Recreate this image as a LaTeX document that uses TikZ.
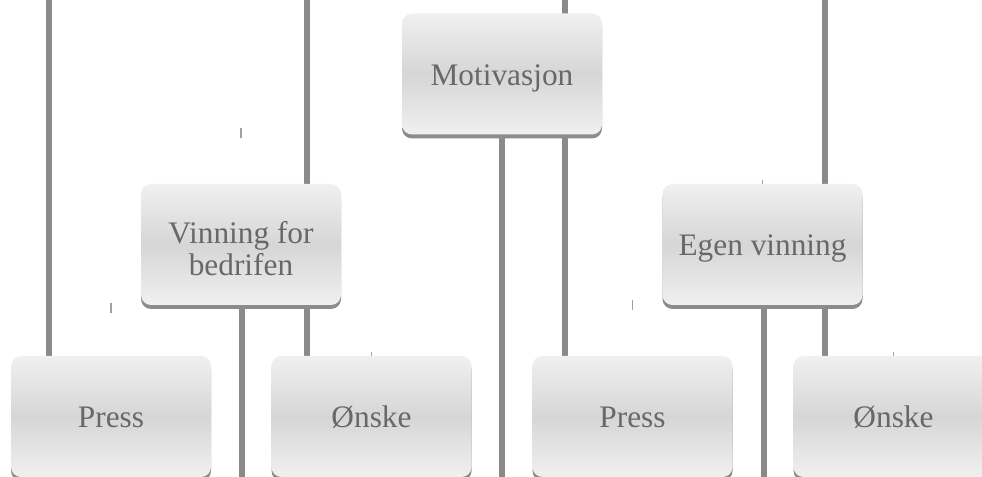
\documentclass[tikz,border=0pt]{standalone}
\usepackage{fontspec}
\setmainfont{Liberation Serif}
\usetikzlibrary{backgrounds}

\definecolor{barcol}{RGB}{138,138,138}
\definecolor{boxlight}{RGB}{240,240,240}
\definecolor{boxdark}{RGB}{214,214,214}
\definecolor{shadowcol}{RGB}{140,140,140}
\definecolor{txtcol}{RGB}{104,104,104}

\tikzset{
  boxbase/.style={rounded corners=7.5pt, minimum width=150pt, minimum height=90.75pt,
    inner sep=0pt, align=center, text=txtcol, font=\fontsize{23.5}{24}\selectfont,
    top color=boxlight, bottom color=boxlight, middle color=boxdark,
    preaction={fill=shadowcol, transform canvas={yshift=-3pt}}},
  box/.style={boxbase, text height=16.6pt, text depth=0pt},
  bar/.style={draw=barcol, line width=4.5pt},
  stub/.style={draw=barcol!80, line width=1pt}
}

\begin{document}
\begin{tikzpicture}[x=0.75pt,y=0.75pt,yscale=-1,xscale=1]
\clip (0,0) rectangle (982,477);

% Top box
\node [box] (mot) at (502,74) {Motivasjon};
% Middle row
\node [boxbase] (vin) at (241,244.5) {\rule{0pt}{22pt}Vinning for\\bedrifen};
\node [box] (egen) at (762.5,244.5) {Egen vinning};
% Bottom row
\node [box] (press1) at (111,416.5) {Press};
\node [box] (oenske1) at (371.5,416.5) {Ønske};
\node [box] (press2) at (632.5,416.5) {Press};
\node [box] (oenske2) at (893.5,416.5) {Ønske};

\coordinate (top1) at (49,0);
\coordinate (top2) at (307,0);
\coordinate (top3) at (565,0);
\coordinate (top4) at (825,0);
\coordinate (bot) at (0,477);

\begin{scope}[on background layer]
%bars from the top
\draw [bar] (top1) -- (top1 |- press1.north);
\draw [bar] (top2) -- (top2 |- oenske1.north);
\draw [bar] (top3) -- (top3 |- press2.north);
\draw [bar] (top4) -- (top4 |- oenske2.north);
%bars to the bottom
\draw [bar] ([xshift=0.75pt]vin.south) -- ([xshift=0.75pt]vin.south |- bot);
\draw [bar] (mot.south) -- (mot.south |- bot);
\draw [bar] ([xshift=1pt]egen.south) -- ([xshift=1pt]egen.south |- bot);
%small stubs
\draw [stub] (vin.north) ++(0,-56) -- ++(0,10);
\draw [stub] (press1.north) ++(0,-53) -- ++(0,10);
\draw [stub] (press2.north) ++(0,-56) -- ++(0,10);
\draw [stub] (egen.north) ++(0,-4) -- ++(0,6);
\draw [stub] (oenske1.north) ++(0,-4) -- ++(0,6);
\draw [stub] (oenske2.north) ++(0,-4) -- ++(0,6);
\draw [stub] (mot.south) ++(0,-2) -- ++(0,6);
\end{scope}

\end{tikzpicture}
\end{document}
